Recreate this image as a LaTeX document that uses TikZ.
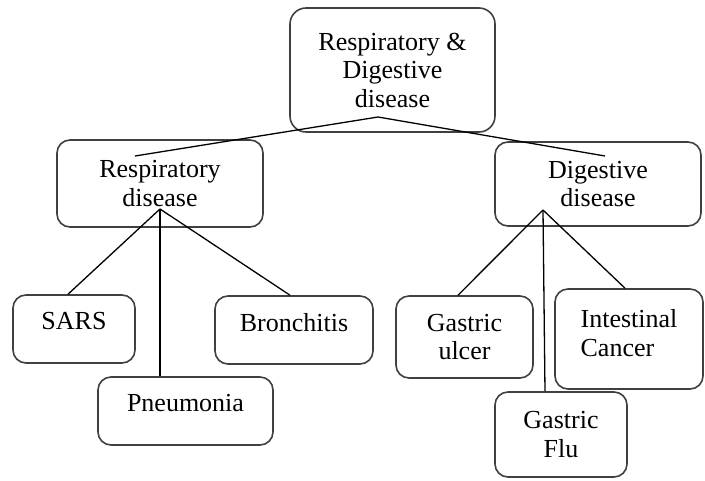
\documentclass[tikz,border=0pt]{standalone}
\usepackage{fontspec}
\setmainfont{Liberation Serif}
\begin{document}
\begin{tikzpicture}[x=1pt,y=-1pt,
    box/.style={draw=black!75, line width=1.6pt, rounded corners=13pt, align=center, inner sep=0pt, font=\fontsize{26}{28.5}\selectfont},
    raised/.style={text depth=16pt},
    link/.style={line width=1.3pt}]
    \path[use as bounding box] (0,0) rectangle (705,480);

    \node (root) at (392.5,70) [box, minimum width=205pt, minimum height=124pt, rounded corners=16pt] {Respiratory \&\\Digestive\\disease};

    \node (resp) at (160,183.5) [box, minimum width=206pt, minimum height=87pt] {Respiratory\\disease};
    \node (dig) at (598,184) [box, minimum width=206pt, minimum height=84pt] {Digestive\\disease};

    \node (sars) at (74,329) [box, raised, minimum width=122pt, minimum height=68pt] {SARS};
    \node (bron) at (294,330) [box, raised, minimum width=158pt, minimum height=68pt] {Bronchitis};
    \node (pneu) at (185.5,411) [box, raised, minimum width=175pt, minimum height=68pt] {Pneumonia};

    \node (gulcer) at (464.5,337) [box, minimum width=137pt, minimum height=82pt] {Gastric\\ulcer};
    \node (intest) at (629,339) [box, align=left, minimum width=148pt, minimum height=100pt, text depth=12pt] {Intestinal\\Cancer};
    \node (flu) at (561,434.5) [box, minimum width=132pt, minimum height=85pt] {Gastric\\Flu};

    \coordinate (root-hub) at (378,117);
    \coordinate (resp-in) at (135,156);
    \coordinate (dig-in) at (605,156);
    \coordinate (resp-hub) at (160,209);
    \coordinate (dig-hub) at (543,210);

    \draw[link] (resp-in) -- (root-hub) -- (dig-in);

    \draw[link] (resp-hub) -- ([xshift=-6pt]sars.north);
    \draw[link] (resp-hub) -- ([xshift=-4pt]bron.north);
    \draw[link] (resp-hub) -- (resp-hub |- pneu.north);

    \draw[link] (dig-hub) -- ([xshift=-6.5pt]gulcer.north);
    \draw[link] (dig-hub) -- ([xshift=-16pt]flu.north);
    \draw[link] (dig-hub) -- ([xshift=-4pt]intest.north);
\end{tikzpicture}
\end{document}
